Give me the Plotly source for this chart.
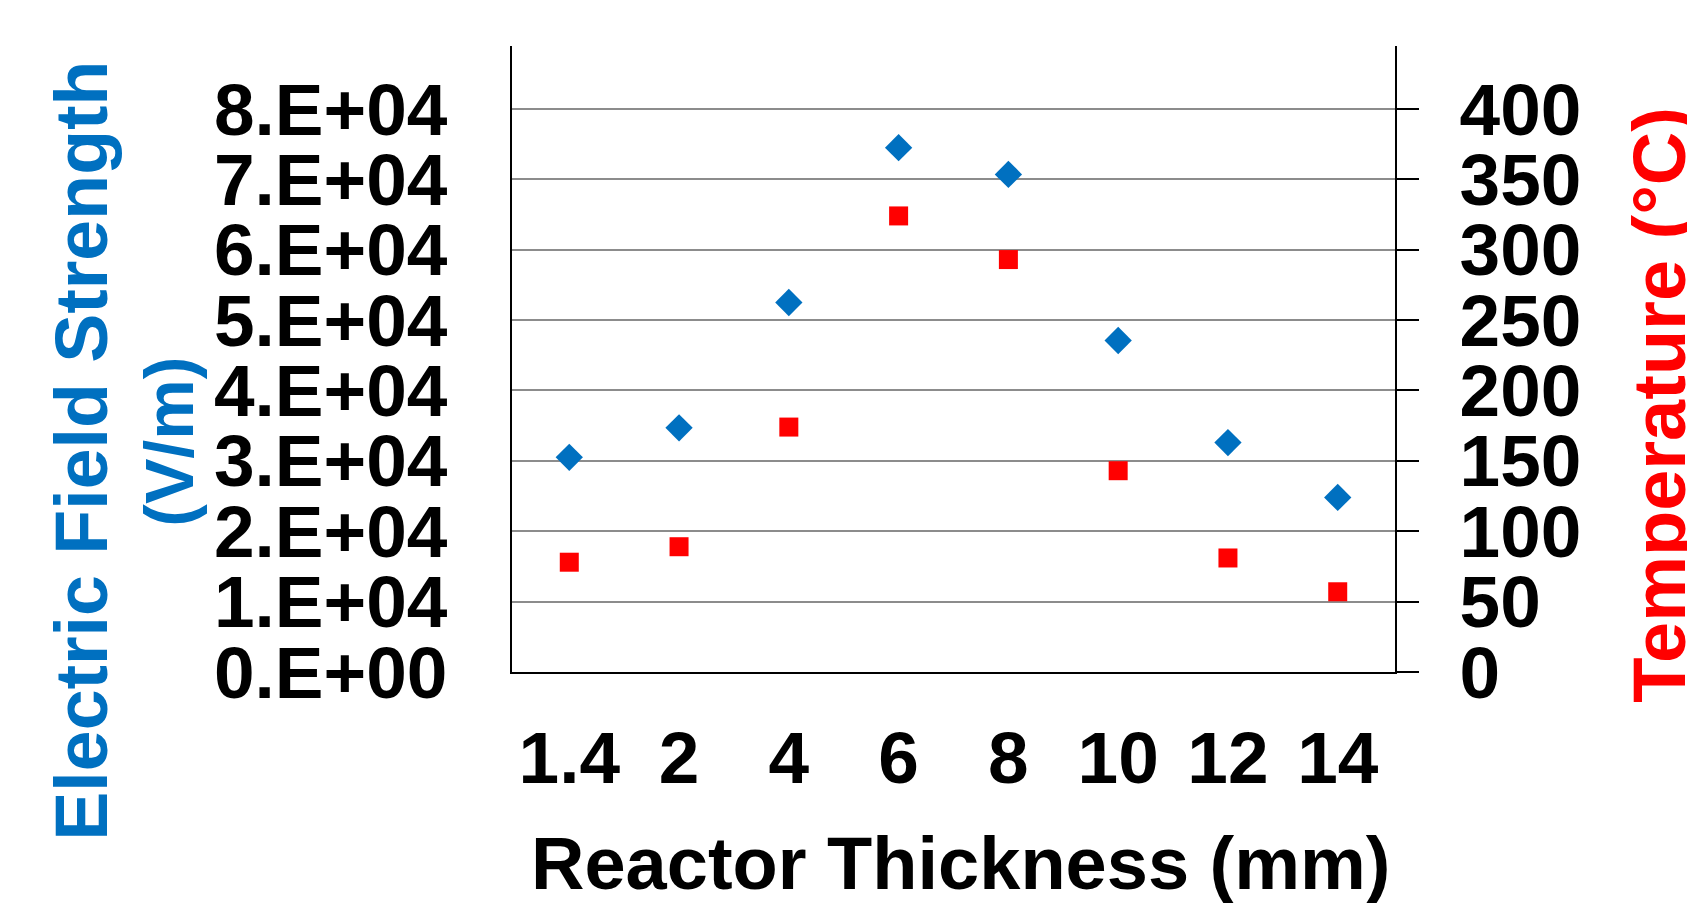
import plotly.graph_objects as go

# ---- data ----
thickness = ["1.4", "2", "4", "6", "8", "10", "12", "14"]
field_strength = [30500, 34700, 52500, 74500, 70700, 47100, 32600, 24800]
temperature = [78, 89, 174, 324, 293, 143, 81, 57]

field_tickvals = [0, 10000, 20000, 30000, 40000, 50000, 60000, 70000, 80000]
field_ticktext = ["0.E+00", "1.E+04", "2.E+04", "3.E+04", "4.E+04",
                  "5.E+04", "6.E+04", "7.E+04", "8.E+04"]
temp_tickvals = [0, 50, 100, 150, 200, 250, 300, 350, 400]

# ---- layout geometry (pixels) ----
W, H = 1687, 903
PL, PR, PT, PB = 512, 1395, 46, 672.5
FONT = "Liberation Sans, Arial, sans-serif"
BLUE = "#0070C0"
RED = "#FF0000"


def px_x(p):
    return (p - PL) / (PR - PL)


def px_y(p):
    return (PB - p) / (PB - PT)


top_frac = (PB - PT) / (PB - 109)

fig = go.Figure()
fig.add_trace(go.Scatter(
    x=thickness, y=field_strength, mode="markers", name="Electric Field Strength",
    marker=dict(symbol="diamond", size=21, color=BLUE, line=dict(width=0)),
    yaxis="y", cliponaxis=False))
fig.add_trace(go.Scatter(
    x=thickness, y=temperature, mode="markers", name="Temperature",
    marker=dict(symbol="square", size=19, color=RED, line=dict(width=0)),
    yaxis="y2", cliponaxis=False))

tick_font = dict(family=FONT, size=73, color="black", weight="bold")

fig.update_layout(
    width=W, height=H,
    margin=dict(l=PL, r=W - PR, t=PT, b=H - PB, pad=0),
    paper_bgcolor="white", plot_bgcolor="white",
    showlegend=False,
    xaxis=dict(type="category", showline=True, linecolor="black", linewidth=2,
               showgrid=False, ticks="", tickfont=tick_font,
               ticklabelstandoff=21, zeroline=False),
    yaxis=dict(range=[0, 80000 * top_frac], tickvals=field_tickvals,
               ticktext=field_ticktext, tickfont=tick_font,
               showgrid=True, gridcolor="#8c8c8c", gridwidth=2,
               showline=True, linecolor="black", linewidth=2,
               ticks="", zeroline=False, ticklabelstandoff=48),
    yaxis2=dict(range=[0, 400 * top_frac], tickvals=temp_tickvals,
                overlaying="y", side="right", tickfont=tick_font,
                showgrid=False, showline=True, linecolor="black", linewidth=2,
                ticks="outside", ticklen=22, tickwidth=2, tickcolor="black",
                zeroline=False, ticklabelstandoff=26),
)

ann_font = dict(family=FONT, size=74, weight="bold")
fig.add_annotation(text="Reactor Thickness (mm)", xref="paper", yref="paper",
                   x=px_x(961), y=px_y(864), xanchor="center", yanchor="middle",
                   showarrow=False, font=dict(ann_font, color="black"))
fig.add_annotation(text="Electric Field Strength", xref="paper", yref="paper",
                   x=px_x(82), y=px_y(451), xanchor="center", yanchor="middle",
                   textangle=-90, showarrow=False,
                   font=dict(family=FONT, size=73.5, weight="bold", color=BLUE))
fig.add_annotation(text="(V/m)", xref="paper", yref="paper",
                   x=px_x(169), y=px_y(442), xanchor="center", yanchor="middle",
                   textangle=-90, showarrow=False,
                   font=dict(family=FONT, size=68, weight="bold", color=BLUE))
fig.add_annotation(text="Temperature (°C)", xref="paper", yref="paper",
                   x=px_x(1660), y=px_y(405), xanchor="center", yanchor="middle",
                   textangle=-90, showarrow=False, font=dict(ann_font, color=RED))

fig.write_html(
    "out.html",
    config={"displayModeBar": False},
    post_script="document.body.style.margin='0';document.body.style.overflow='hidden';",
)
